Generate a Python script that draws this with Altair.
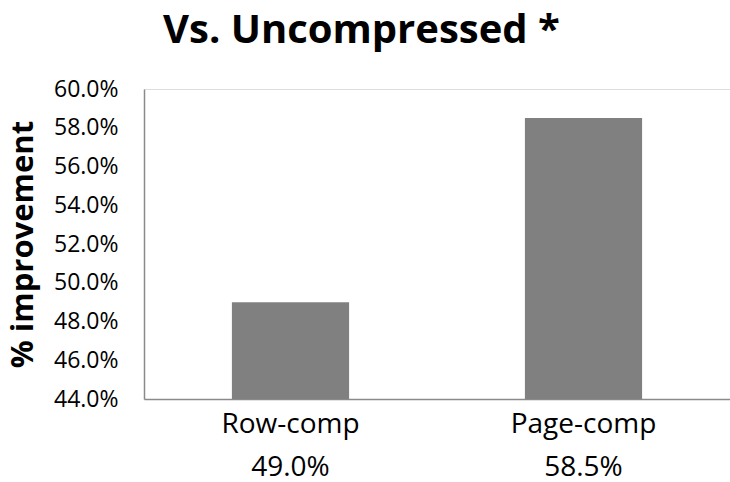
import altair as alt
import pandas as pd

# Compression results against the uncompressed baseline
categories = ["Row-comp", "Page-comp"]
improvement = [0.490, 0.585]
y_ticks = [0.44, 0.46, 0.48, 0.50, 0.52, 0.54, 0.56, 0.58, 0.60]

df = pd.DataFrame({"method": categories, "value": improvement})

FONT = "Open Sans"
GREY = "#808080"
AXIS_GREY = "#8a8a8a"

x_enc = alt.X(
    "method:N",
    sort=categories,
    scale=alt.Scale(paddingInner=0.6, paddingOuter=0.3),
    axis=alt.Axis(
        title=None,
        labelAngle=0,
        labelFont=FONT,
        labelFontSize=28,
        labelColor="#000000",
        labelBaseline="alphabetic",
        labelPadding=33,
        ticks=False,
        tickSize=0,
        domainColor=AXIS_GREY,
        domainWidth=1.5,
        grid=False,
    ),
)

bars = alt.Chart(df).mark_bar(color=GREY).encode(
    x=x_enc,
    y=alt.Y(
        "value:Q",
        scale=alt.Scale(domain=[0.44, 0.60], zero=False, nice=False),
        axis=alt.Axis(
            values=y_ticks,
            format=".1%",
            title="% improvement",
            titleFont=FONT,
            titleFontSize=31,
            titleFontWeight="bold",
            titleColor="#000000",
            titleBaseline="middle",
            titleX=-121,
            labelFont=FONT,
            labelFontSize=23,
            labelColor="#000000",
            labelPadding=26,
            ticks=False,
            tickSize=0,
            domainColor=AXIS_GREY,
            domainWidth=1.5,
            grid=False,
        ),
    ),
    y2=alt.datum(0.44),
)

# Value row printed beneath the category labels
values_row = alt.Chart(df).mark_text(
    font=FONT, fontSize=28, color="#000000", baseline="alphabetic"
).encode(
    x=alt.X("method:N", sort=categories),
    y=alt.value(387),
    text=alt.Text("value:Q", format=".1%"),
)

chart = (
    alt.layer(bars, values_row)
    .properties(
        width=586,
        height=310,
        title=alt.TitleParams(
            "Vs. Uncompressed *",
            font=FONT,
            fontSize=40,
            fontWeight="bold",
            color="#000000",
            anchor="start",
            frame="group",
            dx=19,
            dy=34,
            baseline="alphabetic",
            offset=29,
        ),
        autosize=alt.AutoSizeParams(type="none"),
        padding={"left": 144, "top": 89, "right": 0, "bottom": 83},
    )
    .configure_view(stroke=None)
    .configure(background="#ffffff")
)

chart.save("out.html", embed_options={"renderer": "svg", "actions": False})
